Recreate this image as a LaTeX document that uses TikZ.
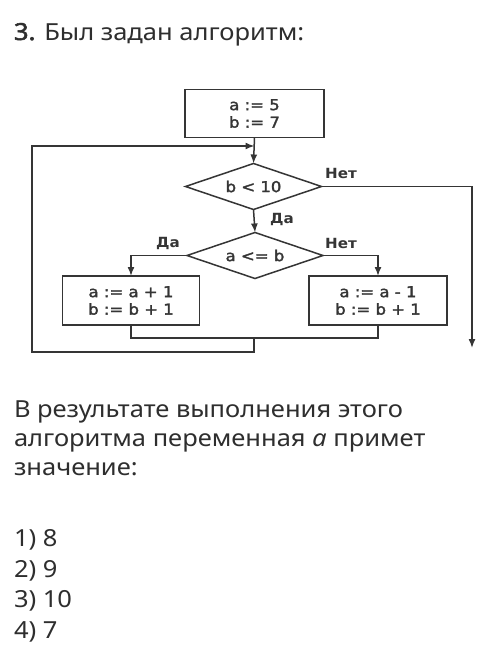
\documentclass[tikz,border=0pt]{standalone}
\usepackage{fontspec}
\setmainfont{Noto Sans}[FakeStretch=1.085,BoldFont=*,BoldFeatures={FakeBold=2.2}]
\newfontfamily\chartfont[FakeStretch=1.1,FakeBold=2]{DejaVu Sans}
\newfontfamily\lblfont[FakeStretch=1.08]{DejaVu Sans Bold}
\usetikzlibrary{shapes.geometric,arrows.meta}
\definecolor{ink}{HTML}{2E2E2E}
\definecolor{chart}{HTML}{353535}
\begin{document}
\begin{tikzpicture}[x=1pt,y=-1pt,
  every node/.style={inner sep=0pt,outer sep=0pt},
  procbox/.style={draw=chart,line width=1.5pt,rectangle,minimum width=#1,minimum height=48pt,
    align=center,font=\chartfont\fontsize{15}{17.5}\selectfont,text=chart},
  decide/.style={draw=chart,line width=1.5pt,diamond,aspect=2.95,minimum width=136pt,minimum height=46pt,
    font=\chartfont\fontsize{15}{17.5}\selectfont,text=chart},
  flow/.style={draw=chart,line width=1.5pt},
  tip/.style={-{Latex[length=9pt,width=7pt]}},
  lbl/.style={font=\lblfont\fontsize{14}{16}\selectfont,text=chart},
  body/.style={anchor=base west,font=\fontsize{23.5}{28}\selectfont,text=ink}]
\useasboundingbox[fill=white] (0,0) rectangle (500,667);

% title
\node[body] (title) at (14,40) {\textbf{3.} Был задан алгоритм:};

% flowchart
\node[procbox=139pt] (init) at (254.5,113.5) {a := 5\\b := 7};
\node[decide] (d1) at (253.5,186.5) {b < 10};
\node[decide] (d2) at (255,255.5) {a <= b};
\node[procbox=137pt,minimum height=49pt] (lbox) at (131,300.5) {a := a + 1\\b := b + 1};
\node[procbox=138pt,minimum height=49pt] (rbox) at (378,300.5) {a := a - 1\\b := b + 1};

\coordinate (join) at (init.south |- 0,146);
\coordinate (exitc) at (472,186.5);
\coordinate (exitend) at (472,348);
\coordinate (mergeL) at (lbox.south |- 0,338);
\coordinate (mergeR) at (rbox.south |- 0,338);
\coordinate (mergeC) at (254,338);
\coordinate (loopB) at (254,352);
\coordinate (loopL) at (32,352);
\coordinate (loopT) at (32,146);

\draw[flow,tip] (init.south) -- (d1.north);
\draw[flow,tip] (d1.east) -- (exitc) -- (exitend);
\draw[flow,tip] (d1.south) -- (d2.north);
\draw[flow,tip] (d2.west) -| (lbox.north);
\draw[flow,tip] (d2.east) -| (rbox.north);
\draw[flow] (lbox.south) -- (mergeL) -- (mergeR) -- (rbox.south);
\draw[flow,tip] (mergeC) -- (loopB) -- (loopL) -- (loopT) -- (join);

\node[lbl] (no1) at (341,173) {Нет};
\node[lbl] (yes1) at (282,219) {Да};
\node[lbl] (yes2) at (168,243) {Да};
\node[lbl] (no2) at (341,243) {Нет};

% question text
\node[body] (q1) at (14,417) {В результате выполнения этого};
\node[body] (q2) at (14,446) {алгоритма переменная \textit{а} примет};
\node[body] (q3) at (14,475) {значение:};
\node[body] (a1) at (14,546) {1) 8};
\node[body] (a2) at (14,577) {2) 9};
\node[body] (a3) at (14,607) {3) 10};
\node[body] (a4) at (14,638) {4) 7};
\end{tikzpicture}
\end{document}
